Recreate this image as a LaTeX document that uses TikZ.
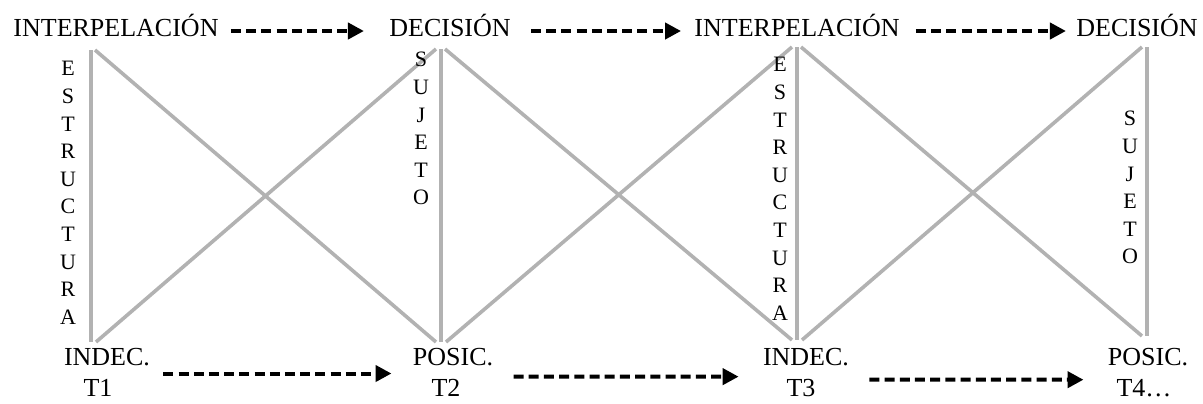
\documentclass[tikz,border=0pt]{standalone}
\usepackage{fontspec}
\setmainfont{Liberation Serif}
\usetikzlibrary{arrows.meta}
\definecolor{linegrey}{RGB}{178,178,178}
\begin{document}
\begin{tikzpicture}[x=0.5pt,y=-0.5pt,
  stage/.style={font=\fontsize{13}{15.5}\selectfont,inner sep=0pt},
  vword/.style={font=\fontsize{11}{13.8}\selectfont,align=center,inner sep=0pt,anchor=north},
  greyline/.style={draw=linegrey,line width=1.8pt},
  flow/.style={line width=2pt,dash pattern=on 5pt off 2.6pt,-{Triangle[length=8pt,width=8pt]}}]
  \useasboundingbox (0,0) rectangle (1203,403);
  % top and bottom ends of the four columns
  \coordinate (a1) at (91,50);   \coordinate (b1) at (91,342);
  \coordinate (a2) at (441,49);  \coordinate (b2) at (441,342);
  \coordinate (a3) at (797,47);  \coordinate (b3) at (797,340);
  \coordinate (a4) at (1147,47); \coordinate (b4) at (1147,336);
  \foreach \i in {1,2,3,4}
    \draw[greyline] (a\i) -- (b\i);
  \foreach \i/\j in {1/2,2/3,3/4} {
    \draw[greyline] ([xshift=2pt]a\i) -- ([xshift=-2.5pt]b\j);
    \draw[greyline] ([xshift=2.5pt]b\i) -- ([xshift=-2.5pt]a\j);
  }
  % labels along the columns
  \node[vword] (est1) at (68,61) {E\\S\\T\\R\\U\\C\\T\\U\\R\\A};
  \node[vword] (suj2) at (421,52) {S\\U\\J\\E\\T\\O};
  \node[vword] (est3) at (780,57) {E\\S\\T\\R\\U\\C\\T\\U\\R\\A};
  \node[vword] (suj4) at (1130,111) {S\\U\\J\\E\\T\\O};
  % top row
  \node[stage,anchor=base] (int1) at (116,36) {INTERPELACIÓN};
  \node[stage,anchor=base] (dec2) at (450,36) {DECISIÓN};
  \node[stage,anchor=base] (int3) at (797,36) {INTERPELACIÓN};
  \node[stage,anchor=base] (dec4) at (1137,36) {DECISIÓN};
  \draw[flow] ([xshift=6pt,yshift=2.5pt]int1.base east) -- ([xshift=-12.5pt,yshift=2.5pt]dec2.base west);
  \draw[flow] ([xshift=10pt,yshift=2.5pt]dec2.base east) -- ([xshift=-6.5pt,yshift=2.5pt]int3.base west);
  \draw[flow] ([xshift=8pt,yshift=2.5pt]int3.base east) -- ([xshift=-5pt,yshift=2.5pt]dec4.base west);
  % bottom row
  \node[stage,align=center,anchor=north] (ind1) at (107,348) {INDEC.\\T1\rule{9pt}{0pt}};
  \node[stage,align=center,anchor=north] (pos2) at (453,348) {POSIC.\\T2\rule{7pt}{0pt}};
  \node[stage,align=center,anchor=north] (ind3) at (806,348) {INDEC.\\T3\rule{5pt}{0pt}};
  \node[stage,align=center,anchor=north] (pos4) at (1148,348) {POSIC.\\T4…\rule{4pt}{0pt}};
  \draw[flow] ([xshift=6.5pt,yshift=-0.5pt]ind1.east) -- ([xshift=-10.5pt,yshift=-0.5pt]pos2.west);
  \draw[flow] ([xshift=10pt,yshift=-2pt]pos2.east) -- ([xshift=-12pt,yshift=-2pt]ind3.west);
  \draw[flow] ([xshift=10pt,yshift=-3.5pt]ind3.east) -- ([xshift=-12pt,yshift=-3.5pt]pos4.west);
\end{tikzpicture}
\end{document}
